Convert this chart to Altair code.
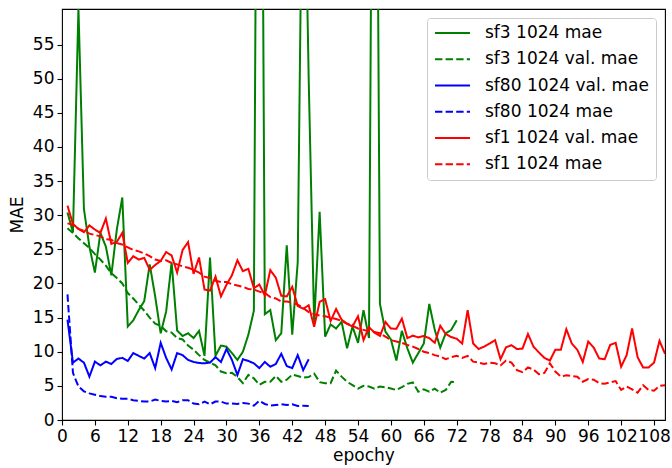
import altair as alt
import pandas as pd

# ---- data ----
epochs_sf3 = list(range(1, 73))
sf3_mae = [30.4, 27.5, 60.3, 30.9, 25.4, 21.6, 27.4, 25.4, 21.2, 27.9,
           32.6, 13.7, 14.6, 16.1, 17.4, 22.8, 18.1, 12.7, 15.9, 23.1,
           13.1, 12.3, 12.7, 12.0, 13.05, 9.4, 23.8, 9.4, 10.9, 10.75,
           9.8, 8.8, 10.0, 12.5, 16.0, 165.0, 15.5, 16.1, 11.7, 12.7,
           25.6, 12.5, 23.1, 95.0, 50.0, 14.2, 30.5, 12.2, 14.0, 13.4,
           14.4, 10.5, 13.7, 11.3, 16.1, 12.0, 150.0, 17.0, 12.95, 11.8,
           8.7, 13.05, 10.5, 8.4, 9.8, 11.2, 17.0, 13.2, 10.6, 12.7,
           13.2, 14.6]
sf3_val_mae = [28.1, 27.4, 26.6, 25.9, 25.2, 24.3, 23.5, 22.6, 21.5, 20.8,
               20.0, 18.6, 17.8, 16.9, 16.0, 15.0, 14.1, 13.8, 13.0, 12.8,
               12.0, 11.8, 10.9, 10.3, 9.5, 8.8, 8.4, 8.0, 7.1, 6.85,
               6.9, 6.3, 5.4, 6.6, 6.1, 5.15, 5.6, 5.6, 6.45, 5.6,
               5.9, 6.65, 6.45, 6.2, 6.3, 6.8, 5.55, 5.4, 5.4, 7.25,
               6.35, 5.6, 5.1, 4.6, 5.0, 4.9, 4.6, 4.9, 4.8, 4.6,
               4.4, 4.8, 5.3, 5.5, 4.15, 4.5, 4.15, 4.6, 4.0, 4.4,
               5.6, 5.5]

epochs_sf80 = list(range(1, 46))
sf80_val_mae = [14.7, 8.4, 9.0, 8.4, 6.35, 8.55, 8.0, 8.55, 8.2, 8.95,
                9.1, 8.65, 9.8, 9.4, 9.0, 9.8, 7.6, 11.3, 9.1, 7.4,
                9.8, 9.5, 8.8, 8.5, 8.35, 8.3, 8.4, 9.2, 8.5, 10.4,
                8.8, 6.6, 8.9, 8.65, 8.3, 7.6, 8.5, 7.8, 8.2, 9.7,
                7.9, 7.6, 9.5, 7.3, 8.9]
sf80_mae = [18.4, 6.9, 4.9, 4.2, 3.9, 3.7, 3.5, 3.4, 3.4, 3.2,
            3.1, 3.1, 2.9, 2.8, 2.7, 2.7, 3.0, 2.8, 2.7, 2.8,
            2.6, 2.9, 2.9, 2.4, 2.3, 2.7, 2.3, 2.7, 2.7, 2.4,
            2.4, 2.35, 2.5, 2.4, 2.1, 2.8, 2.35, 2.1, 2.2, 2.3,
            2.2, 2.3, 2.05, 2.1, 2.05]

epochs_sf1 = list(range(1, 111))
sf1_val_mae = [31.4, 28.7, 28.0, 27.5, 28.5, 27.9, 27.4, 29.5, 25.8, 26.1,
               27.4, 23.0, 24.0, 23.5, 23.75, 22.0, 22.7, 23.3, 24.6, 24.1,
               21.6, 24.9, 26.05, 21.4, 23.8, 19.1, 18.95, 21.0, 18.1, 19.8,
               21.2, 23.4, 21.8, 22.15, 19.3, 19.85, 18.25, 21.95, 20.85, 18.2,
               18.1, 19.5, 16.7, 16.3, 16.8, 13.65, 17.3, 17.7, 14.5, 16.25,
               14.7, 14.1, 13.7, 15.2, 11.7, 13.6, 12.8, 12.3, 14.35, 13.4,
               13.35, 14.85, 12.0, 12.35, 12.1, 12.3, 12.0, 11.3, 13.8, 12.6,
               12.15, 11.9, 11.2, 16.1, 11.2, 10.4, 10.75, 11.2, 11.7, 8.9,
               10.65, 10.95, 10.4, 10.45, 12.6, 10.75, 9.9, 9.1, 8.7, 10.3,
               10.3, 13.3, 11.2, 10.3, 8.5, 11.5, 10.6, 9.0, 8.9, 11.0,
               11.3, 7.8, 9.5, 13.4, 9.2, 7.7, 7.7, 8.4, 11.6, 9.7]
sf1_mae = [28.8, 28.6, 28.0, 27.7, 27.3, 27.1, 26.9, 26.5, 26.4, 25.9,
           25.7, 25.3, 24.9, 24.7, 24.4, 24.0, 23.5, 23.3, 23.4, 23.0,
           22.8, 22.5, 22.3, 22.0, 21.6, 21.0, 20.8, 20.4, 20.2, 20.2,
           19.9, 19.7, 19.5, 19.2, 19.1, 18.8, 18.6, 18.0, 17.8, 17.35,
           17.35, 17.2, 16.9, 16.4, 15.8, 15.5, 15.3, 15.2, 15.0, 14.8,
           14.5, 14.1, 13.8, 13.4, 13.2, 13.0, 12.9, 12.7, 12.2, 11.7,
           11.5, 11.3, 11.0, 10.75, 10.4, 10.0, 9.8, 9.5, 9.3, 8.9,
           9.2, 9.4, 9.1, 9.4, 8.55, 8.4, 8.2, 8.4, 8.3, 8.0,
           8.7, 8.4, 7.3, 7.0, 7.7, 7.4, 6.7, 6.9, 8.3, 7.1,
           6.35, 6.55, 6.45, 6.35, 5.6, 6.0, 5.9, 5.4, 5.3, 5.5,
           5.7, 4.4, 4.9, 4.5, 4.0, 5.1, 4.4, 4.3, 5.0, 5.1]

series_names = ["sf3 1024 mae", "sf3 1024 val. mae", "sf80 1024 val. mae",
                "sf80 1024 mae", "sf1 1024 val. mae", "sf1 1024 mae"]
series_colors = ["#008000", "#008000", "#0000ff", "#0000ff", "#ff0000", "#ff0000"]
SOLID = [1, 0]
DASHED = [7.4, 3.2]
series_dash = [SOLID, DASHED, SOLID, DASHED, SOLID, DASHED]

x_ticks = list(range(0, 109, 6))
y_ticks = list(range(0, 56, 5))

# ---- long table ----
parts = []
for name, ep, vals in [
    (series_names[0], epochs_sf3, sf3_mae),
    (series_names[1], epochs_sf3, sf3_val_mae),
    (series_names[2], epochs_sf80, sf80_val_mae),
    (series_names[3], epochs_sf80, sf80_mae),
    (series_names[4], epochs_sf1, sf1_val_mae),
    (series_names[5], epochs_sf1, sf1_mae),
]:
    parts.append(pd.DataFrame({"epoch": ep, "value": vals, "series": name}))
df = pd.concat(parts, ignore_index=True)

FONT = "DejaVu Sans"
FS = 17

legend = alt.Legend(
    title=None,
    orient="none",
    legendX=365,
    legendY=9,
    symbolType="stroke",
    symbolSize=1225,
    symbolStrokeWidth=2,
    clipHeight=16,
    rowPadding=9.25,
    padding=7,
    labelOffset=14,
    labelFont=FONT,
    labelFontSize=FS,
    labelColor="black",
    labelLimit=400,
    fillColor="white",
    strokeColor="#cccccc",
    cornerRadius=3,
)

chart = (
    alt.Chart(df)
    .mark_line(clip=True, strokeWidth=2)
    .encode(
        x=alt.X(
            "epoch:Q",
            scale=alt.Scale(domain=[0, 110], nice=False, zero=False),
            axis=alt.Axis(values=x_ticks, title="epochy", labelFlush=False,
                          labelOverlap=False, labelPadding=3, titlePadding=3),
        ),
        y=alt.Y(
            "value:Q",
            scale=alt.Scale(domain=[0, 60.2], nice=False),
            axis=alt.Axis(values=y_ticks, title="MAE", labelPadding=3,
                          titlePadding=6),
        ),
        color=alt.Color("series:N",
                        scale=alt.Scale(domain=series_names, range=series_colors),
                        legend=legend),
        strokeDash=alt.StrokeDash("series:N",
                                  scale=alt.Scale(domain=series_names, range=series_dash),
                                  legend=legend),
        order="epoch:Q",
    )
    .properties(
        width=603,
        height=411,
        autosize=alt.AutoSizeParams(type="none"),
        padding={"left": 62, "top": 9, "right": 6, "bottom": 48},
    )
    .configure_view(stroke="black", strokeWidth=1.1)
    .configure_axis(
        grid=False,
        domain=False,
        tickColor="black",
        tickSize=5,
        tickWidth=1.1,
        labelFont=FONT,
        labelFontSize=FS,
        labelColor="black",
        titleFont=FONT,
        titleFontSize=FS,
        titleFontWeight="normal",
        titleColor="black",
    )
)

chart.save("out.html", embed_options={"renderer": "svg", "actions": False})
